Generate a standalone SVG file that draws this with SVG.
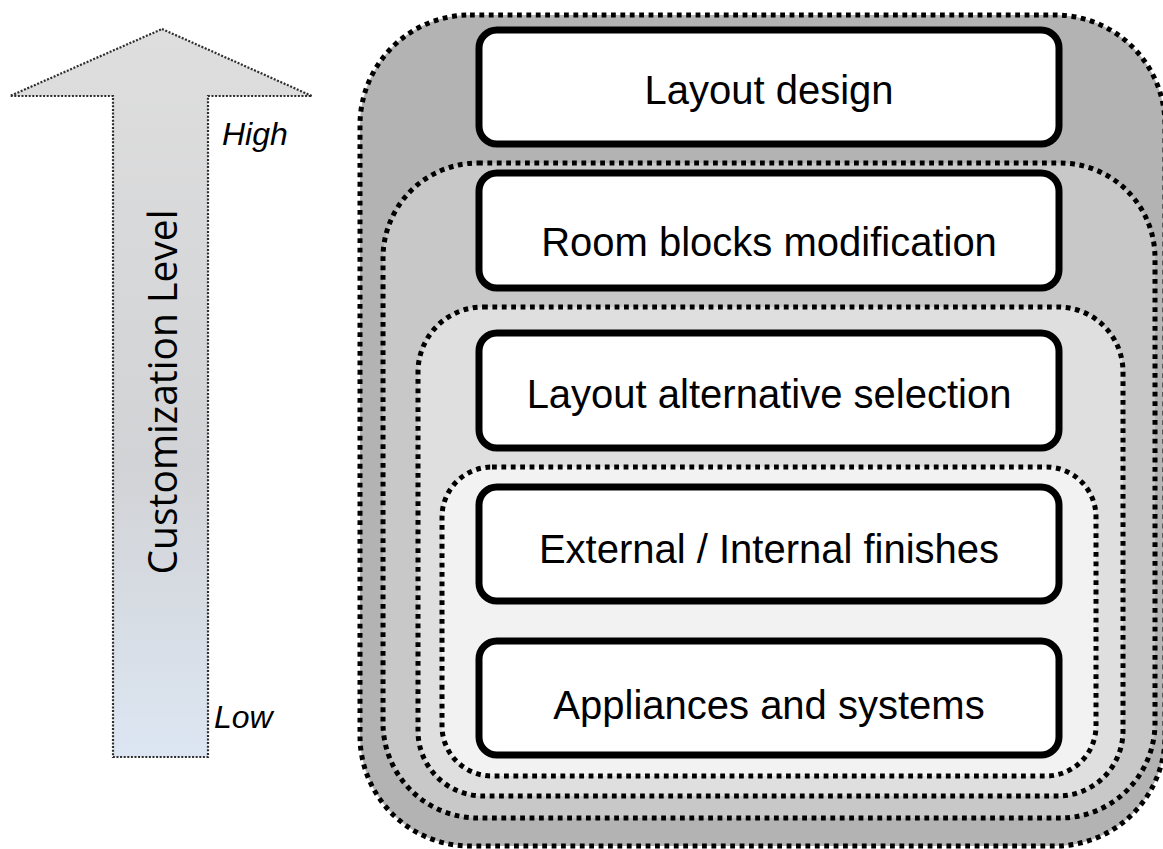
<svg xmlns="http://www.w3.org/2000/svg" width="1163" height="849" viewBox="0 0 1163 849">
  <defs>
    <linearGradient id="arrowGrad" x1="0" y1="29" x2="0" y2="757" gradientUnits="userSpaceOnUse">
      <stop offset="0" stop-color="#dedede"/>
      <stop offset="0.6" stop-color="#d2d3d6"/>
      <stop offset="1" stop-color="#dce6f2"/>
    </linearGradient>
    <style>
      .lvl { stroke: #000; stroke-width: 5; stroke-dasharray: 4.8 4.6; }
      .box { fill: #fff; stroke: #000; stroke-width: 7; }
      .btxt { font-family: "Liberation Sans", Arial, sans-serif; font-size: 40px; fill: #000; text-anchor: middle; }
      .itxt { font-family: "Liberation Sans", Arial, sans-serif; font-size: 32px; font-style: italic; fill: #000; }
    </style>
  </defs>
  <rect width="1163" height="849" fill="#fff"/>

  <g id="arrow">
    <polygon points="162,29 312,96 208,96 208,757 113,757 113,96 10,96" fill="url(#arrowGrad)" stroke="#2e2e2e" stroke-width="2.2" stroke-dasharray="2 1.6"/>
    <text transform="translate(177,392) rotate(-90)" font-family="'Open Sans', 'Noto Sans', sans-serif" font-size="41" text-anchor="middle" textLength="365" lengthAdjust="spacingAndGlyphs" fill="#000">Customization Level</text>
    <text class="itxt" x="222" y="145">High</text>
    <text class="itxt" x="214" y="728">Low</text>
  </g>

  <g id="levels">
    <rect id="level1" class="lvl" x="360" y="15" width="805" height="831" rx="110" fill="#b3b3b3"/>
    <rect id="level2" class="lvl" x="383" y="163" width="772" height="655" rx="95" fill="#c8c8c8"/>
    <rect id="level3" class="lvl" x="418" y="307" width="705" height="489" rx="65" fill="#dfdfdf"/>
    <rect id="level4" class="lvl" x="442" y="467" width="654" height="309" rx="50" fill="#f2f2f2"/>
  </g>

  <g id="node1">
    <rect class="box" x="479" y="30" width="580" height="114" rx="18"/>
    <text class="btxt" x="769" y="104">Layout design</text>
  </g>
  <g id="node2">
    <rect class="box" x="479" y="173" width="580" height="115" rx="18"/>
    <text class="btxt" x="769" y="256">Room blocks modification</text>
  </g>
  <g id="node3">
    <rect class="box" x="479" y="333" width="580" height="115" rx="18"/>
    <text class="btxt" x="769" y="408">Layout alternative selection</text>
  </g>
  <g id="node4">
    <rect class="box" x="479" y="487" width="580" height="114" rx="18"/>
    <text class="btxt" x="769" y="563">External / Internal finishes</text>
  </g>
  <g id="node5">
    <rect class="box" x="479" y="641" width="580" height="114" rx="18"/>
    <text class="btxt" x="769" y="719">Appliances and systems</text>
  </g>

  <g id="connectors"></g>
</svg>
